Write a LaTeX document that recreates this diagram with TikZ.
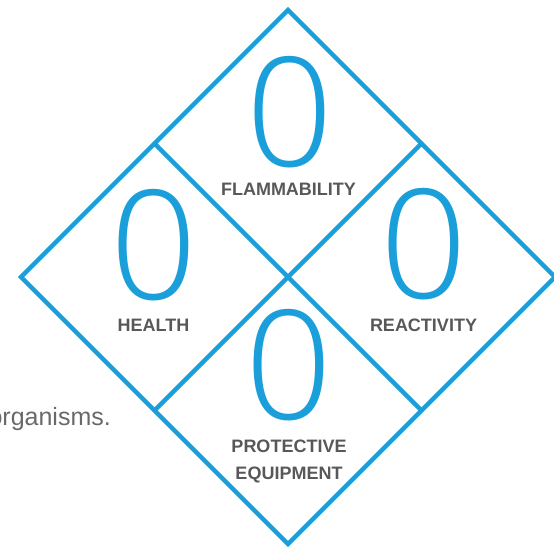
\documentclass[tikz,border=0pt]{standalone}
\usepackage{fontspec}
\setmainfont{Liberation Sans}
\newfontfamily\digitfont{Open Sans Light}
\usetikzlibrary{calc}
\definecolor{nfpablue}{RGB}{27,159,218}
\definecolor{labelgray}{RGB}{88,88,88}
\definecolor{textgray}{RGB}{105,105,105}
\begin{document}
\begin{tikzpicture}[x=1pt,y=-1pt,
  edgeline/.style={draw=nfpablue,line width=4.5pt,line join=miter},
  digit/.style={text=nfpablue,font=\digitfont\fontsize{152}{152}\selectfont,inner sep=0pt},
  hazlabel/.style={text=labelgray,font=\bfseries\fontsize{18}{22}\selectfont,inner sep=0pt,anchor=base},
  bodytext/.style={text=textgray,font=\fontsize{25}{30}\selectfont,inner sep=0pt,anchor=base east}]
\useasboundingbox (0,0) rectangle (554,549);
% outer corners
\coordinate (T) at (288,10);
\coordinate (L) at (21,277);
\coordinate (R) at (555,277);
\coordinate (B) at (288,544);
% edge midpoints
\coordinate (UL) at ($(T)!0.5!(L)$);
\coordinate (UR) at ($(T)!0.5!(R)$);
\coordinate (LL) at ($(B)!0.5!(L)$);
\coordinate (LR) at ($(B)!0.5!(R)$);
\draw[edgeline] (T) -- (R) -- (B) -- (L) -- cycle;
\draw[edgeline] (UL) -- (LR);
\draw[edgeline] (UR) -- (LL);
% digits
\node[digit] (dflam) at (290,112.5) {0};
\node[digit] (dhealth) at (154,245.5) {0};
\node[digit] (dreact) at (424,244.5) {0};
\node[digit] (dprot) at (289,365) {0};
% labels
\node[hazlabel] (lflam) at (288.5,195.5) {FLAMMABILITY};
\node[hazlabel] (lhealth) at (153.5,331.5) {HEALTH};
\node[hazlabel] (lreact) at (423.5,331.5) {REACTIVITY};
\node[hazlabel] (lprot) at (289,452) {PROTECTIVE};
\node[hazlabel] (lequip) at (289,479.5) {EQUIPMENT};
% side text
\node[bodytext] (org) at (111,425) {organisms.};
\end{tikzpicture}
\end{document}
